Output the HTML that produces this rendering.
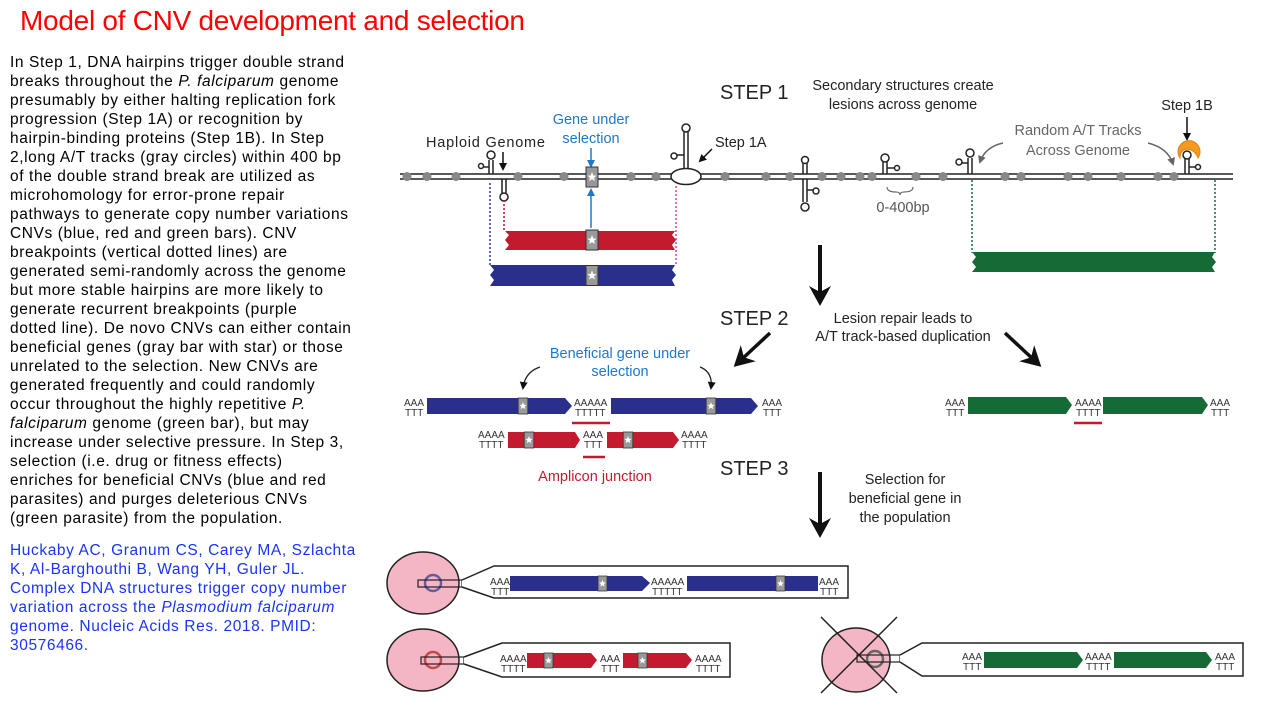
<!DOCTYPE html>
<html><head><meta charset="utf-8"><style>
html,body{margin:0;padding:0;background:#fff;width:1280px;height:720px;overflow:hidden}
svg{display:block}
.lt{font-family:"Liberation Sans",sans-serif;font-size:15.5px;letter-spacing:0.6px;fill:#000}
.ct{font-family:"Liberation Sans",sans-serif;font-size:15.5px;letter-spacing:0.6px;fill:#1a33ff}
.d{font-family:"Liberation Sans",sans-serif;font-size:14.5px;fill:#222}
.st{font-family:"Liberation Sans",sans-serif;font-size:20px;fill:#222}
.at{font-family:"Liberation Sans",sans-serif;font-size:10px;fill:#333}
</style></head><body>
<svg width="1280" height="720" viewBox="0 0 1280 720" xmlns="http://www.w3.org/2000/svg">
<defs>
<symbol id="gb" viewBox="0 0 12 20" overflow="visible">
<rect x="0" y="0" width="12" height="20" fill="#999" stroke="#333" stroke-width="1"/>
<polygon points="6,5 7.3,8.5 10.5,8.6 8,10.8 8.9,14 6,12.1 3.1,14 4,10.8 1.5,8.6 4.7,8.5" fill="#fff"/>
</symbol>
<marker id="ah" markerWidth="8" markerHeight="8" refX="6" refY="4" orient="auto" markerUnits="userSpaceOnUse"><path d="M0,0 L8,4 L0,8 Z" fill="#111"/></marker>
<marker id="ahb" markerWidth="8" markerHeight="8" refX="6" refY="4" orient="auto" markerUnits="userSpaceOnUse"><path d="M0,0 L8,4 L0,8 Z" fill="#1f78c8"/></marker>
<marker id="ahg" markerWidth="8" markerHeight="8" refX="6" refY="4" orient="auto" markerUnits="userSpaceOnUse"><path d="M0,0 L8,4 L0,8 Z" fill="#666"/></marker>
<marker id="big" markerWidth="20" markerHeight="22" refX="10" refY="11" orient="auto" markerUnits="userSpaceOnUse"><path d="M0,0 L20,11 L0,22 L6,11 Z" fill="#111"/></marker>
</defs>

<text x="20" y="30" font-family="Liberation Sans, sans-serif" font-size="28" fill="#ff0000" textLength="505">Model of CNV development and selection</text>

<g class="lt">
<text x="10" y="67">In Step 1, DNA hairpins trigger double strand</text>
<text x="10" y="86">breaks throughout  the <tspan font-style="italic">P. falciparum</tspan> genome</text>
<text x="10" y="105">presumably by either  halting replication fork</text>
<text x="10" y="124">progression  (Step 1A) or recognition by</text>
<text x="10" y="143">hairpin-binding proteins  (Step 1B). In Step</text>
<text x="10" y="162">2,long  A/T tracks (gray circles) within 400 bp</text>
<text x="10" y="181">of the  double strand  break are utilized as</text>
<text x="10" y="200">microhomology  for error-prone repair</text>
<text x="10" y="219">pathways to generate  copy number variations</text>
<text x="10" y="238">CNVs (blue, red and green bars). CNV</text>
<text x="10" y="257">breakpoints (vertical dotted  lines) are</text>
<text x="10" y="276">generated  semi-randomly  across the genome</text>
<text x="10" y="295">but more stable hairpins are more likely to</text>
<text x="10" y="314">generate  recurrent breakpoints  (purple</text>
<text x="10" y="333">dotted line). De novo CNVs can either contain</text>
<text x="10" y="352">beneficial genes  (gray bar with star) or those</text>
<text x="10" y="371">unrelated to the selection.  New CNVs are</text>
<text x="10" y="390">generated  frequently and could randomly</text>
<text x="10" y="409">occur throughout  the highly repetitive <tspan font-style="italic">P.</tspan></text>
<text x="10" y="428"><tspan font-style="italic">falciparum</tspan> genome  (green bar), but may</text>
<text x="10" y="447">increase under selective pressure. In Step 3,</text>
<text x="10" y="466">selection (i.e. drug or fitness effects)</text>
<text x="10" y="485">enriches for beneficial CNVs (blue and red</text>
<text x="10" y="504">parasites) and purges deleterious  CNVs</text>
<text x="10" y="523">(green parasite) from the population.</text>
</g>
<g class="ct">
<text x="10" y="555">Huckaby AC, Granum CS, Carey MA, Szlachta</text>
<text x="10" y="574">K, Al-Barghouthi  B, Wang YH, Guler JL.</text>
<text x="10" y="593">Complex DNA structures  trigger copy number</text>
<text x="10" y="612">variation across the <tspan font-style="italic">Plasmodium falciparum</tspan></text>
<text x="10" y="631">genome.  Nucleic Acids Res. 2018. PMID:</text>
<text x="10" y="650">30576466.</text>
</g>

<!-- STEP 1 -->
<text x="720" y="99" class="st">STEP 1</text>
<text x="903" y="90" class="d" text-anchor="middle">Secondary structures create</text>
<text x="903" y="109" class="d" text-anchor="middle">lesions across genome</text>
<text x="1187" y="110" class="d" text-anchor="middle">Step 1B</text>
<line x1="1187" y1="117" x2="1187" y2="139" stroke="#111" stroke-width="1.5" marker-end="url(#ah)"/>
<text x="1078" y="135" class="d" text-anchor="middle" style="fill:#666">Random A/T Tracks</text>
<text x="1078" y="155" class="d" text-anchor="middle" style="fill:#666">Across Genome</text>
<path d="M1003,143 Q985,147 980,162" fill="none" stroke="#666" stroke-width="1.5" marker-end="url(#ahg)"/>
<path d="M1148,143 Q1168,148 1173,164" fill="none" stroke="#666" stroke-width="1.5" marker-end="url(#ahg)"/>
<text x="426" y="147" class="d" textLength="119">Haploid Genome</text>
<line x1="503" y1="152" x2="503" y2="169" stroke="#111" stroke-width="1.5" marker-end="url(#ah)"/>
<text x="591" y="124" class="d" text-anchor="middle" style="fill:#1f78c8">Gene under</text>
<text x="591" y="143" class="d" text-anchor="middle" style="fill:#1f78c8">selection</text>
<line x1="591" y1="148" x2="591" y2="166" stroke="#1f78c8" stroke-width="1.5" marker-end="url(#ahb)"/>
<line x1="591" y1="228" x2="591" y2="190" stroke="#1f78c8" stroke-width="1.5" marker-end="url(#ahb)"/>
<text x="715" y="147" class="d">Step 1A</text>
<line x1="712" y1="149" x2="700" y2="161" stroke="#111" stroke-width="1.5" marker-end="url(#ah)"/>

<!-- genome line -->
<line x1="400" y1="174" x2="1233" y2="174" stroke="#222" stroke-width="1.5"/>
<line x1="400" y1="179" x2="1233" y2="179" stroke="#222" stroke-width="1.5"/>
<g fill="#888">
<circle cx="407" cy="176.5" r="4.5"/><circle cx="427" cy="176.5" r="4.5"/><circle cx="456" cy="176.5" r="4.5"/><circle cx="518" cy="176.5" r="4.5"/><circle cx="564" cy="176.5" r="4.5"/><circle cx="631" cy="176.5" r="4.5"/><circle cx="656" cy="176.5" r="4.5"/><circle cx="725" cy="176.5" r="4.5"/><circle cx="766" cy="176.5" r="4.5"/><circle cx="790" cy="176.5" r="4.5"/><circle cx="822" cy="176.5" r="4.5"/><circle cx="841" cy="176.5" r="4.5"/><circle cx="860" cy="176.5" r="4.5"/><circle cx="872" cy="176.5" r="4.5"/><circle cx="916" cy="176.5" r="4.5"/><circle cx="943" cy="176.5" r="4.5"/><circle cx="1005" cy="176.5" r="4.5"/><circle cx="1021" cy="176.5" r="4.5"/><circle cx="1068" cy="176.5" r="4.5"/><circle cx="1088" cy="176.5" r="4.5"/><circle cx="1121" cy="176.5" r="4.5"/><circle cx="1158" cy="176.5" r="4.5"/><circle cx="1174" cy="176.5" r="4.5"/>
</g>
<use href="#gb" x="586" y="167" width="12" height="20"/>
<!-- hairpins -->
<g fill="#fff" stroke="#222" stroke-width="1.5">
<path d="M489,174 V160 M493,174 V160"/><circle cx="491" cy="155" r="4"/><path d="M489,167 H483"/><circle cx="481" cy="166" r="2.5"/>
<path d="M502,179 V193 M506,179 V193"/><circle cx="504" cy="197" r="4"/>
<ellipse cx="686" cy="176.5" rx="15" ry="8"/>
<path d="M684,168 V132 M688,168 V132"/><circle cx="686" cy="128" r="4"/><path d="M684,155 H677"/><circle cx="674" cy="156" r="3"/>
<path d="M803,179 V202 M807,179 V202"/><circle cx="805" cy="207" r="4"/><path d="M807,190 H813"/><circle cx="816" cy="191" r="3"/>
<path d="M803,174 V163 M807,174 V163"/><circle cx="805" cy="160" r="3.5"/>
<path d="M883,174 V162 M887,174 V162"/><circle cx="885" cy="158" r="4"/><path d="M887,168 H895"/><circle cx="897" cy="168" r="2.5"/>
<path d="M968,174 V158 M972,174 V158"/><circle cx="970" cy="153" r="4"/><path d="M968,163 H962"/><circle cx="959" cy="162" r="3"/>
</g>
<path d="M1180,158 A11,11 0 1 1 1198,158 Q1195,150 1187,149 Q1180,150 1180,158 Z" fill="#f39a1f" stroke="#e08010"/>
<g fill="#fff" stroke="#222" stroke-width="1.5">
<path d="M1185,174 V158 M1189,174 V158"/><circle cx="1187" cy="155" r="4"/><path d="M1189,167 H1196"/><circle cx="1198" cy="167" r="2.5"/>
</g>
<path d="M887,187 Q887,192 896,192 Q900,192 900,195 Q900,192 904,192 Q913,192 913,187" fill="none" stroke="#555" stroke-width="1"/>
<text x="903" y="212" class="d" text-anchor="middle" style="fill:#555">0-400bp</text>

<!-- dotted lines -->
<line x1="490" y1="183" x2="490" y2="265" stroke="#2c2f8f" stroke-width="1.5" stroke-dasharray="2,2"/>
<line x1="504" y1="200" x2="504" y2="232" stroke="#c8102e" stroke-width="1.5" stroke-dasharray="2,2"/>
<line x1="676" y1="186" x2="676" y2="265" stroke="#e0408a" stroke-width="1.5" stroke-dasharray="2,2"/>
<line x1="972" y1="180" x2="972" y2="253" stroke="#1a6b3a" stroke-width="1.5" stroke-dasharray="2,2"/>
<line x1="1215" y1="180" x2="1215" y2="253" stroke="#1a6b3a" stroke-width="1.5" stroke-dasharray="2,2"/>
<!-- bars -->
<polygon points="505,231 675,231 672,235 676,240 672,245 675,250 505,250 509,245 505,240 509,235" fill="#c41a30"/>
<use href="#gb" x="586" y="230" width="12" height="20"/>
<polygon points="490,265 675,265 672,270 676,275 672,280 675,286 490,286 494,280 490,275 494,270" fill="#2b2f8c"/>
<use href="#gb" x="586" y="265" width="12" height="21"/>
<polygon points="972,252 1215,252 1212,257 1216,262 1212,267 1215,272 972,272 976,267 972,262 976,257" fill="#156a35"/>

<line x1="820" y1="245" x2="820" y2="296" stroke="#111" stroke-width="4" marker-end="url(#big)"/>

<!-- STEP 2 -->
<text x="720" y="325" class="st">STEP 2</text>
<text x="903" y="323" class="d" text-anchor="middle">Lesion repair leads to</text>
<text x="903" y="341" class="d" text-anchor="middle">A/T track-based duplication</text>
<line x1="770" y1="333" x2="741" y2="360" stroke="#111" stroke-width="3.5" marker-end="url(#big)"/>
<line x1="1005" y1="333" x2="1034" y2="360" stroke="#111" stroke-width="3.5" marker-end="url(#big)"/>
<text x="620" y="358" class="d" text-anchor="middle" style="fill:#1f78c8">Beneficial gene under</text>
<text x="620" y="376" class="d" text-anchor="middle" style="fill:#1f78c8">selection</text>
<path d="M540,367 Q525,372 523,388" fill="none" stroke="#222" stroke-width="1.3" marker-end="url(#ah)"/>
<path d="M700,367 Q713,372 711,388" fill="none" stroke="#222" stroke-width="1.3" marker-end="url(#ah)"/>

<g class="at">
<text x="404" y="406">AAA</text><text x="405" y="416">TTT</text>
<text x="574" y="406">AAAAA</text><text x="575" y="416">TTTTT</text>
<text x="762" y="406">AAA</text><text x="763" y="416">TTT</text>
<text x="478" y="438">AAAA</text><text x="479" y="448">TTTT</text>
<text x="583" y="438">AAA</text><text x="584" y="448">TTT</text>
<text x="681" y="438">AAAA</text><text x="682" y="448">TTTT</text>
<text x="945" y="406">AAA</text><text x="946" y="416">TTT</text>
<text x="1075" y="406">AAAA</text><text x="1076" y="416">TTTT</text>
<text x="1210" y="406">AAA</text><text x="1211" y="416">TTT</text>
</g>
<polygon points="427,398 565,398 572,406 565,414 427,414" fill="#2b2f8c"/>
<use href="#gb" x="518" y="398" width="10" height="16"/>
<polygon points="611,398 751,398 758,406 751,414 611,414" fill="#2b2f8c"/>
<use href="#gb" x="706" y="398" width="10" height="16"/>
<line x1="572" y1="423" x2="610" y2="423" stroke="#c41a30" stroke-width="2.5"/>
<polygon points="508,432 575,432 580,440 575,448 508,448" fill="#c41a30"/>
<use href="#gb" x="524" y="432" width="10" height="16"/>
<polygon points="607,432 673,432 679,440 673,448 607,448" fill="#c41a30"/>
<use href="#gb" x="623" y="432" width="10" height="16"/>
<line x1="583" y1="457" x2="605" y2="457" stroke="#c41a30" stroke-width="2.5"/>
<text x="595" y="481" class="d" text-anchor="middle" style="fill:#c41a30">Amplicon junction</text>
<polygon points="968,397 1066,397 1072,405 1066,414 968,414" fill="#156a35"/>
<polygon points="1103,397 1202,397 1208,405 1202,414 1103,414" fill="#156a35"/>
<line x1="1074" y1="423" x2="1102" y2="423" stroke="#c41a30" stroke-width="2.5"/>

<!-- STEP 3 -->
<text x="720" y="475" class="st">STEP 3</text>
<text x="905" y="484" class="d" text-anchor="middle">Selection for</text>
<text x="905" y="503" class="d" text-anchor="middle">beneficial gene in</text>
<text x="905" y="522" class="d" text-anchor="middle">the population</text>
<line x1="820" y1="472" x2="820" y2="528" stroke="#111" stroke-width="4" marker-end="url(#big)"/>

<!-- cell 1 -->
<ellipse cx="423" cy="583" rx="36" ry="31" fill="#f4b6c4" stroke="#222" stroke-width="1.5"/>
<circle cx="433" cy="583" r="8" fill="none" stroke="#6a5aa0" stroke-width="2.5"/>
<rect x="418" y="580" width="44" height="7" fill="none" stroke="#222" stroke-width="1.2"/>
<path d="M462,580 L494,566 H848 V598 H494 L462,587" fill="#fff" stroke="#222" stroke-width="1.5"/>
<g class="at">
<text x="490" y="585">AAA</text><text x="491" y="595">TTT</text>
<text x="651" y="585">AAAAA</text><text x="652" y="595">TTTTT</text>
<text x="819" y="585">AAA</text><text x="820" y="595">TTT</text>
</g>
<polygon points="510,576 642,576 650,583 642,591 510,591" fill="#2b2f8c"/>
<use href="#gb" x="598" y="576" width="9" height="15"/>
<rect x="687" y="576" width="131" height="15" fill="#2b2f8c"/>
<use href="#gb" x="776" y="576" width="9" height="15"/>

<!-- cell 2 -->
<ellipse cx="423" cy="660" rx="36" ry="31" fill="#f4b6c4" stroke="#222" stroke-width="1.5"/>
<circle cx="433" cy="660" r="8" fill="none" stroke="#c44a4a" stroke-width="2.5"/>
<rect x="421" y="657" width="43" height="7" fill="none" stroke="#222" stroke-width="1.2"/>
<path d="M464,657 L502,643 H730 V677 H502 L464,664" fill="#fff" stroke="#222" stroke-width="1.5"/>
<g class="at">
<text x="500" y="662">AAAA</text><text x="501" y="672">TTTT</text>
<text x="600" y="662">AAA</text><text x="601" y="672">TTT</text>
<text x="695" y="662">AAAA</text><text x="696" y="672">TTTT</text>
</g>
<polygon points="527,653 591,653 597,660 591,668 527,668" fill="#c41a30"/>
<use href="#gb" x="544" y="653" width="9" height="15"/>
<polygon points="623,653 686,653 692,660 686,668 623,668" fill="#c41a30"/>
<use href="#gb" x="638" y="653" width="9" height="15"/>

<!-- cell 3 -->
<ellipse cx="856" cy="660" rx="34" ry="32" fill="#f4b6c4" stroke="#222" stroke-width="1.5"/>
<circle cx="875" cy="659" r="8" fill="none" stroke="#666" stroke-width="2.5"/>
<rect x="857" y="655" width="43" height="7" fill="none" stroke="#222" stroke-width="1.2"/>
<line x1="821" y1="617" x2="897" y2="693" stroke="#222" stroke-width="1.5"/>
<line x1="897" y1="617" x2="821" y2="693" stroke="#222" stroke-width="1.5"/>
<path d="M900,655 L922,643 H1243 V676 H922 L900,662" fill="#fff" stroke="#222" stroke-width="1.5"/>
<g class="at">
<text x="962" y="660">AAA</text><text x="963" y="670">TTT</text>
<text x="1085" y="660">AAAA</text><text x="1086" y="670">TTTT</text>
<text x="1215" y="660">AAA</text><text x="1216" y="670">TTT</text>
</g>
<polygon points="984,652 1077,652 1083,660 1077,668 984,668" fill="#156a35"/>
<polygon points="1114,652 1206,652 1212,660 1206,668 1114,668" fill="#156a35"/>
</svg>
</body></html>
